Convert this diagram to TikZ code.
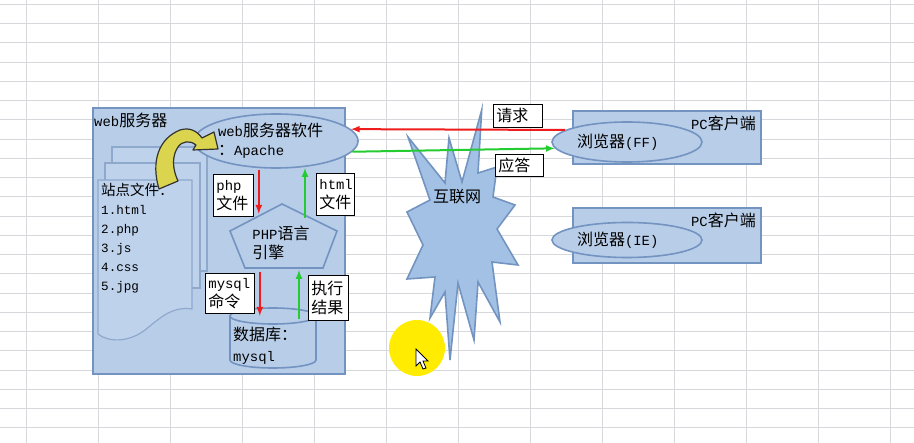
\documentclass[tikz,border=0pt]{standalone}
\usepackage{fontspec}
\setmainfont{Liberation Mono}[Scale=0.87]
\newfontfamily\cjk{Noto Sans CJK SC}
\newcommand{\zh}[1]{{\cjk #1}}
\usetikzlibrary{shapes.geometric}

\begin{document}
\begin{tikzpicture}[x=1pt, y=-1pt, font=\fontsize{16}{19}\selectfont]
    \definecolor{grid_color}{RGB}{214,216,220}
    \definecolor{fill_color}{RGB}{184,205,232}
    \definecolor{page_color}{RGB}{190,210,236}
    \definecolor{star_color}{RGB}{163,193,228}
    \definecolor{line_color}{RGB}{115,148,192}
    \definecolor{req_color}{RGB}{238,28,28}
    \definecolor{resp_color}{RGB}{36,204,50}
    \definecolor{turn_color}{RGB}{218,212,78}
    \definecolor{spot_color}{RGB}{255,236,0}
    \tikzstyle{blue_box} = [draw=line_color, line width=1.6pt, fill=fill_color]
    \tikzstyle{blue_oval} = [blue_box, ellipse, inner sep=0pt, align=left]
    \tikzstyle{doc_page} = [draw=line_color!80, line width=1.2pt, fill=page_color]
    \tikzstyle{turn_arrow} = [draw=black!80, line width=1.2pt, fill=turn_color, line join=round]
    \tikzstyle{ann} = [inner sep=0pt, align=left]
    \tikzstyle{tag} = [draw=black, line width=0.8pt, fill=white, inner sep=3pt, align=left, anchor=north west]
    \tikzstyle{req} = [line width=2pt, req_color, -latex]
    \tikzstyle{resp} = [line width=2pt, resp_color, -latex]

    \fill[white] (0,0) rectangle (914,443);
    \useasboundingbox (0,0) rectangle (914,443);
    % sheet grid
    \foreach \c in {0,...,12}
        \draw[grid_color] ({26+72.05*\c},0) -- ({26+72.05*\c},443);
    \foreach \r in {0,...,22}
        \draw[grid_color] (0,{4+19.25*\r}) -- (914,{4+19.25*\r});

    % web server
    \node[blue_box, anchor=north west, minimum width=252, minimum height=266] (server) at (92,107) {};
    \node[ann, anchor=west] (server_lbl) at (94,120) {web\zh{服务器}};
    \draw[doc_page] (112,147) rectangle (207,271);
    \draw[doc_page] (105,163) rectangle (200,288);
    \draw[doc_page] (98,180) -- (192,180) -- (192,309) .. controls (172,306) and (160,318) .. (145,330) .. controls (128,343) and (108,342) .. (98,334) -- cycle;
    \node[ann, anchor=north west, font=\fontsize{14.5}{19}\selectfont] (site) at (101,183) {\zh{站点文件：}\\1.html\\2.php\\3.js\\4.css\\5.jpg};
    \node[blue_oval, minimum width=160, minimum height=54, text width=116] (apache) at (276,141) {web\zh{服务器软件}\\\zh{：}Apache};
    \draw[turn_arrow] (159,189) .. controls (151,162) and (158,139) .. (180,130) .. controls (190,127) and (197,131) .. (202,138) -- (214,132) -- (218,149) -- (193,150) -- (196,145) .. controls (190,140) and (182,141) .. (178,147) .. controls (172,156) and (172,168) .. (178,181) -- cycle;
    \draw[blue_box] (282,204) -- (337,231) -- (323,268) -- (245,268) -- (230,231) -- cycle;
    \node[ann] (engine) at (281,243) {PHP\zh{语言}\\\zh{引擎}};
    \draw[blue_box] (230,316) -- (230,360) arc[start angle=180, end angle=0, x radius=43, y radius=8] -- (316,316) -- cycle;
    \draw[blue_box] (273,316) ellipse [x radius=43, y radius=8];
    \node[ann, anchor=north west, font=\fontsize{16}{21}\selectfont] (db) at (233,327) {\zh{数据库：}\\mysql};

    \node[tag, text width=34, minimum height=42] (php_file) at (213,174) {php\\\zh{文件}};
    \node[tag, text width=32, minimum height=42] (html_file) at (316,173) {html\\\zh{文件}};
    \node[tag, text width=43, minimum height=40] (mysql_cmd) at (205,273) {mysql\\\zh{命令}};
    \node[tag, text width=34, minimum height=45] (exec_result) at (308,275) {\zh{执行}\\\zh{结果}};
    \draw[req] ([xshift=5pt,yshift=4pt]php_file.north east) -- ([xshift=5pt,yshift=3pt]php_file.south east);
    \draw[resp] ([xshift=-11pt,yshift=-2pt]html_file.south west) -- ([xshift=-11pt,yshift=5pt]html_file.north west);
    \draw[req] ([xshift=5pt,yshift=1pt]mysql_cmd.north east) -- ([xshift=5pt,yshift=-2pt]mysql_cmd.south east);
    \draw[resp] ([xshift=-9pt,yshift=2pt]exec_result.south west) -- ([xshift=-9pt,yshift=5pt]exec_result.north west);

    % internet
    \draw[blue_box, fill=star_color] (481.7,110) -- (478,173) -- (497,167) -- (493,197) -- (515,205) -- (497,229) -- (518,265) -- (492,262) -- (500,322) -- (478,282) -- (474,340) -- (458,283) -- (450,360) -- (445,292) -- (430,318) -- (435,277) -- (407,279) -- (423,245) -- (407,212) -- (430,200) -- (408,137) -- (445,183) -- (449,138) -- (462,182) -- cycle;
    \node[ann] (internet) at (457,197) {\zh{互联网}};

    % clients
    \node[blue_box, anchor=north west, minimum width=188, minimum height=53] (pc_ff) at (572,110) {};
    \node[blue_oval, minimum width=150, minimum height=40, text width=100] (ff) at (627,142) {\zh{浏览器}(FF)};
    \node[ann, anchor=east] (pc_ff_lbl) at (756,123) {PC\zh{客户端}};
    \node[blue_box, anchor=north west, minimum width=188, minimum height=55] (pc_ie) at (572,207) {};
    \node[blue_oval, minimum width=150, minimum height=35, text width=100] (ie) at (627,240) {\zh{浏览器}(IE)};
    \node[ann, anchor=east] (pc_ie_lbl) at (756,220) {PC\zh{客户端}};

    \draw[req] (ff.169) -- (apache.9);
    \draw[resp] (apache.-8) -- (ff.185);
    \node[tag, text width=43, minimum height=23] (request) at (493,104) {\zh{请求}};
    \node[tag, text width=42, minimum height=22] (response) at (495,154) {\zh{应答}};

    % pointer
    \fill[spot_color] (417,348) circle (28);
    \draw[fill=white, line width=0.8pt] (416,349) -- (416,366) -- (420,362) -- (423,369) -- (426,368) -- (423,361) -- (428,361) -- cycle;
\end{tikzpicture}
\end{document}
